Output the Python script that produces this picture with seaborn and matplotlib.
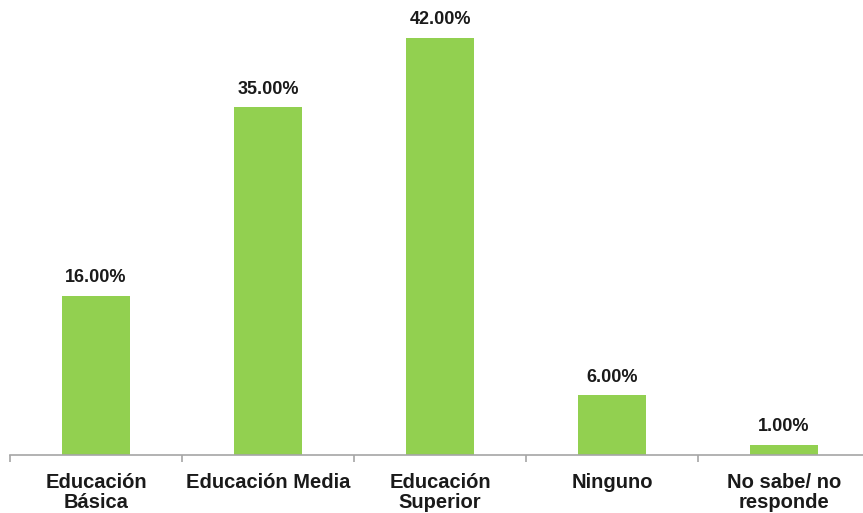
import matplotlib
matplotlib.use("Agg")
import matplotlib.pyplot as plt
import seaborn as sns
import pandas as pd

categories = ["Educación\nBásica", "Educación Media", "Educación\nSuperior",
              "Ninguno", "No sabe/ no\nresponde"]
values = [0.16, 0.35, 0.42, 0.06, 0.01]

sns.set_style("white")
plt.rcParams["font.family"] = ["Liberation Sans", "DejaVu Sans"]

df = pd.DataFrame({"nivel": categories, "pct": values})

W, H = 863, 513
fig = plt.figure(figsize=(W / 100, H / 100), dpi=100)
# axes spans the five category slots; baseline sits near the bottom
left_px, right_px, base_px = 10, 870, 455
ymax = 0.45
px_per_unit = (455 - 38) / 0.42
height_px = ymax * px_per_unit
ax = fig.add_axes([left_px / W, (H - base_px) / H,
                   (right_px - left_px) / W, height_px / H])

sns.barplot(data=df, x="nivel", y="pct", color="#92D050", width=0.4,
            saturation=1, linewidth=0, ax=ax)

ax.set_xlim(-0.5, len(categories) - 0.5)
ax.set_ylim(0, ymax)
ax.set_xlabel("")
ax.set_ylabel("")
ax.set_yticks([])
for s in ["top", "right", "left"]:
    ax.spines[s].set_visible(False)
ax.spines["bottom"].set_color("#A6A6A6")
ax.spines["bottom"].set_linewidth(1.2)

# tick marks between categories, labels centred under bars
ax.set_xticks([i - 0.5 for i in range(len(categories) + 1)], minor=True)
ax.tick_params(axis="x", which="minor", length=5, width=1.2,
               color="#A6A6A6", direction="out", bottom=True)
ax.tick_params(axis="x", which="major", length=0, pad=13)
ax.set_xticks(range(len(categories)))
ax.set_xticklabels(categories, fontsize=14.5, fontweight="bold",
                   color="#1a1a1a", linespacing=1.05)

for i, v in enumerate(values):
    ax.annotate(f"{v * 100:.2f}%", (i, v), xytext=(0, 7),
                textcoords="offset points", ha="center", va="bottom",
                fontsize=13, fontweight="bold", color="#1a1a1a")

fig.savefig("out.png", dpi=100)
